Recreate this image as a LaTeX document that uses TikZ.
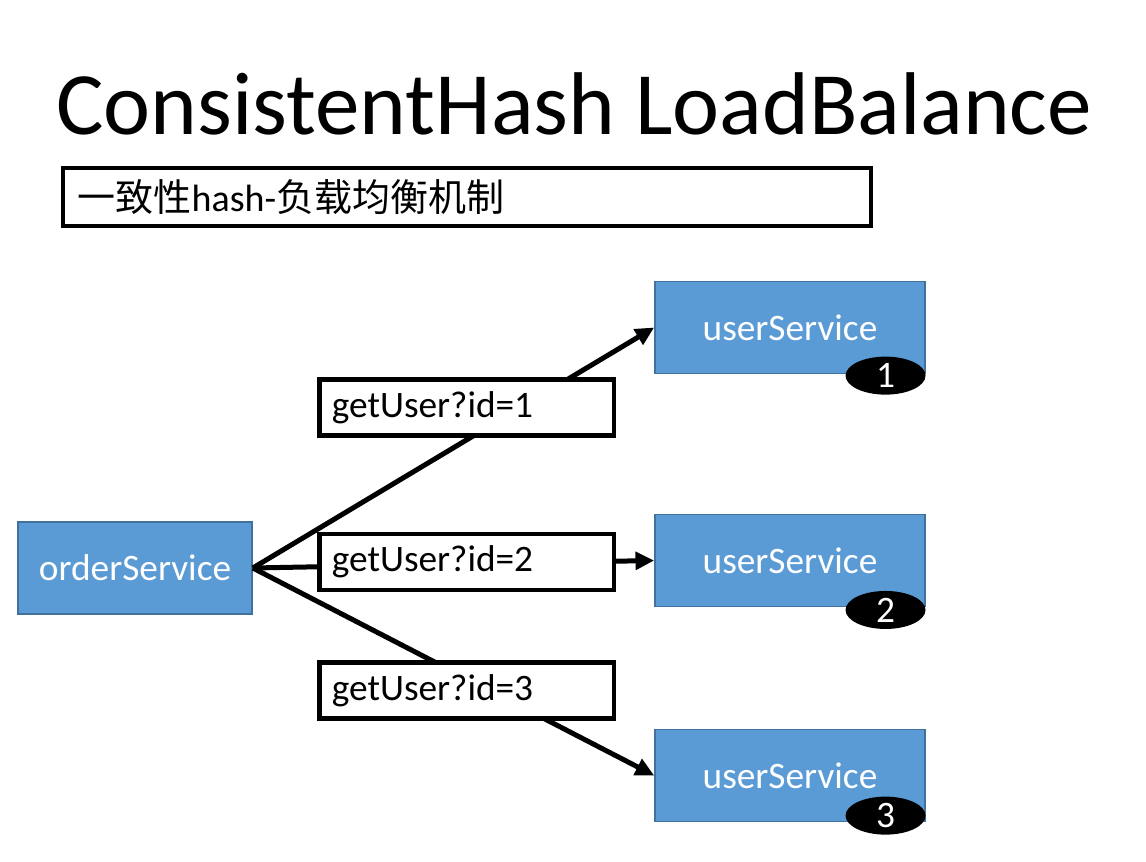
\documentclass[tikz,border=0pt]{standalone}
\usepackage{fontspec}
\setmainfont{Carlito}
\newfontfamily\cjk{Noto Sans CJK SC}
\usetikzlibrary{arrows.meta,shapes.geometric}
\definecolor{boxblue}{RGB}{91,155,213}
\definecolor{boxedge}{RGB}{65,113,156}
\tikzset{
    service/.style={draw=boxedge, line width=1.2pt, fill=boxblue, text=white, font=\fontsize{28}{32}\selectfont, minimum height=69pt},
    badge/.style={ellipse, fill=black, text=white, minimum width=60pt, minimum height=28.5pt, inner sep=0pt, font=\fontsize{28}{32}\selectfont},
    request/.style={draw, line width=3.5pt, fill=white, minimum height=42pt, text width=202pt, inner xsep=9.5pt, align=left, font=\fontsize{28}{32}\selectfont},
    call/.style={line width=3.75pt, -{Triangle[length=14pt, width=13pt]}}
}
\begin{document}
\begin{tikzpicture}[x=0.75pt, y=-0.75pt]
    \useasboundingbox[fill=white] (0, 0) rectangle (1146, 862);

    \node[anchor=base west, inner sep=0pt, font=\fontsize{66.8}{70}\selectfont] (title) at (56, 135) {ConsistentHash LoadBalance};
    \node[draw, line width=3pt, minimum width=606pt, minimum height=43.5pt, text width=584pt, inner xsep=11pt, align=left, font=\fontsize{28.5}{32}\selectfont] (subtitle) at (467, 197) {{\cjk 一致性}hash-{\cjk 负载均衡机制}};

    \node[service, minimum width=175.5pt] (order) at (135, 568) {orderService};
    \foreach \i/\y/\dy in {1/327.5/-1, 2/560.5/-2, 3/775.5/5} {
        \node[service, minimum width=202.5pt] (user\i) at (790, \y) {userService};
        \node[badge, anchor=east] (num\i) at ([yshift=\dy pt]user\i.south east) {\i};
        \draw[call] (order.east) -- (user\i.west);
    }
    \foreach \i/\y in {1/407.5, 2/562, 3/690.5} {
        \node[request] (req\i) at (466.5, \y) {getUser?id=\i};
    }
\end{tikzpicture}
\end{document}
